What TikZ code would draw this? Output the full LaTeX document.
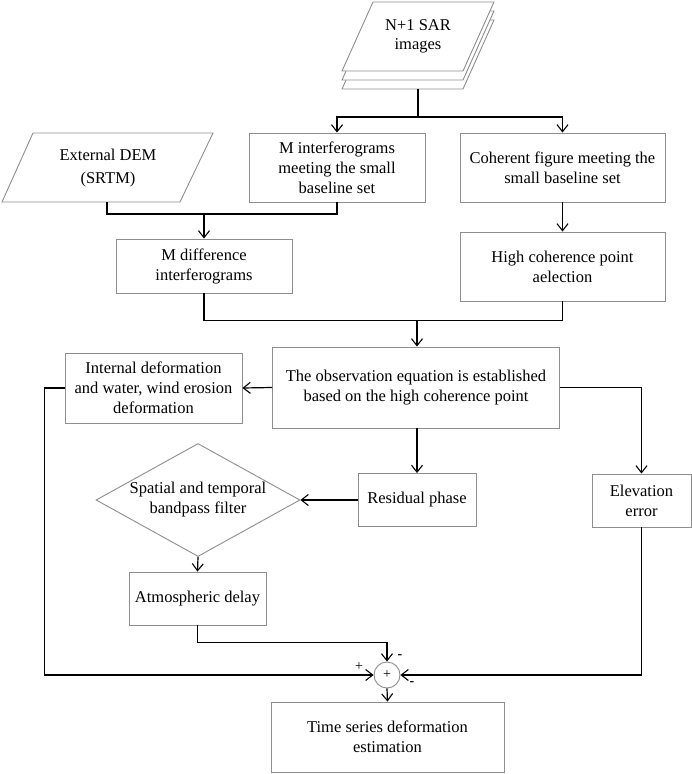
\documentclass[tikz,border=0pt]{standalone}
\usepackage{fontspec}
\setmainfont{Liberation Serif}
\usetikzlibrary{arrows.meta,shapes.geometric}
\definecolor{boxgray}{HTML}{8E8E8E}
\tikzset{
  box/.style={rectangle, draw=boxgray, line width=0.9pt, inner sep=0pt, align=center,
    font=\fontsize{16.5}{20}\selectfont, fill=white},
  txt/.style={inner sep=0pt, align=center, font=\fontsize{16.5}{20}\selectfont},
  conn/.style={draw=black, line width=1.2pt},
  arr/.style={conn, -{Straight Barb[length=7pt,width=11pt,line width=1.1pt]}},
  sheet/.style={draw=boxgray, line width=0.9pt, fill=white},
  sign/.style={inner sep=0pt, font=\fontsize{14}{14}\selectfont}
}
\begin{document}
\begin{tikzpicture}[x=1pt,y=-1pt]
\useasboundingbox[fill=white] (0,0) rectangle (692,774);

% stacked SAR images
\foreach \d in {18,9,0}{
  \draw[sheet] (373,2+\d) -- (494,2+\d) -- (463,71+\d) -- (342,71+\d) -- cycle;
}
\node[txt, font=\fontsize{16.5}{19}\selectfont] (sar) at (418,36) {N+1 SAR\\images};
\coordinate (sarbot) at (418,89);

% external DEM parallelogram
\draw[sheet] (33,133) -- (213,133) -- (180,202) -- (2,202) -- cycle;
\node[txt, font=\fontsize{16.5}{23}\selectfont] (dem) at (108,168) {External DEM\\(SRTM)};
\coordinate (dembot) at (107,202);

% boxes
\node[box, minimum width=176pt, minimum height=69pt] (minter) at (337,167.5) {M interferograms\\meeting the small\\baseline set};
\node[box, minimum width=205pt, minimum height=69pt] (coh) at (562.5,167.5) {Coherent figure meeting the\\small baseline set};
\node[box, minimum width=176pt, minimum height=54pt] (mdiff) at (204,266) {M difference\\interferograms};
\node[box, minimum width=205pt, minimum height=69pt] (hcp) at (562.5,266.5) {High coherence point\\aelection};
\node[box, minimum width=287pt, minimum height=81pt] (obs) at (416,387.5) {The observation equation is established\\based on the high coherence point};
\node[box, minimum width=177pt, minimum height=70pt] (intd) at (153.5,388) {Internal deformation\\and water, wind erosion\\deformation};
\node[box, minimum width=118pt, minimum height=53pt] (res) at (417,500) {Residual phase};
\node[box, minimum width=99pt, minimum height=53pt] (elev) at (641.5,500.5) {Elevation\\error};
\node[diamond, draw=boxgray, line width=0.9pt, inner sep=0pt, minimum width=204pt, minimum height=113pt] (dia) at (198,500) {};
\node[txt] (diatext) at (dia.center) {Spatial and temporal\\bandpass filter};
\node[box, minimum width=137pt, minimum height=53pt] (atm) at (197.5,598.5) {Atmospheric delay};
\node[circle, draw=boxgray, line width=0.9pt, minimum size=26pt, inner sep=0pt, font=\fontsize{14}{14}\selectfont] (sum) at (387,675) {+};
\node[box, minimum width=233pt, minimum height=70pt] (ts) at (387.5,737) {Time series deformation\\estimation};

% sign labels
\node[sign] (lplus) at (359,667) {+};
\node[sign, font=\bfseries\fontsize{14}{14}\selectfont] (mtop) at (400,657) {-};
\node[sign, font=\bfseries\fontsize{14}{14}\selectfont] (mright) at (412,684) {-};

% connectors
\draw[arr] (sarbot) -- ++(0,28) -| (minter.north);
\draw[arr] (sarbot) -- ++(0,28) -| (coh.north);
\draw[conn] (dembot) -- ++(0,12) -| (minter.south);
\coordinate (j1) at (204,214);
\draw[arr] (j1) -- (mdiff.north);
\draw[arr] (coh.south) -- (hcp.north);
\draw[conn] (mdiff.south) -- ++(0,27) -| (hcp.south);
\coordinate (j2) at (417,320);
\draw[arr] (j2) -- (j2 |- obs.north);
\draw[arr] (obs.west) -- (intd.west -| intd.east);
\draw[arr] (obs.east) -| (elev.north);
\draw[arr] (obs.south -| res.north) -- (res.north);
\draw[arr] (res.west) -- (dia.east);
\draw[arr] (dia.south) -- (atm.north);
\draw[arr] (intd.west) -- ++(-20,0) |- (sum.west);
\draw[arr] (atm.south) -- ++(0,17) -| (sum.north);
\draw[arr] (elev.south) |- (sum.east);
\draw[arr] (sum.south) -- (ts.north);
\end{tikzpicture}
\end{document}
